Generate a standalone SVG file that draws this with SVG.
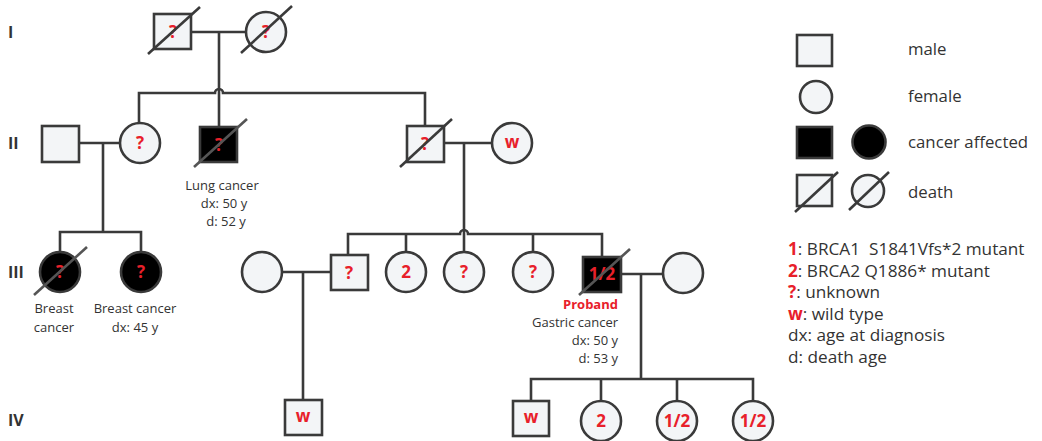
<svg xmlns="http://www.w3.org/2000/svg" width="1042" height="441" viewBox="0 0 1042 441">
<style>
.m{fill:#f3f5f7;stroke:#3a3a3a;stroke-width:2.6}
.a{fill:#000;stroke:#3a3a3a;stroke-width:2.6}
.ln{fill:none;stroke:#3a3a3a;stroke-width:2.6}
.sl{stroke:#3a3a3a;stroke-width:2.6;fill:none}
.sla{stroke:#555;stroke-width:2.6;fill:none}
.q{font-family:"Open Sans",sans-serif;font-weight:bold;font-size:17px;fill:#e8202a;text-anchor:middle}
.t{font-family:"Open Sans",sans-serif;font-size:13px;fill:#333}
.g{font-family:"Open Sans",sans-serif;font-weight:bold;font-size:16px;fill:#333}
.lg{font-family:"Open Sans",sans-serif;font-size:16.8px;fill:#333}
.lb{font-family:"Open Sans",sans-serif;font-size:17.2px;fill:#333}
.r{fill:#e8202a;font-weight:bold}
</style>
<rect width="1042" height="441" fill="#fff"/>
<g id="gen-labels">
<text class="g" x="8" y="38">I</text>
<text class="g" x="8" y="149">II</text>
<text class="g" x="8" y="278">III</text>
<text class="g" x="8" y="426">IV</text>
</g>
<g id="connectors">
<path class="ln" d="M192,32 H246"/>
<path class="ln" d="M219,32 V127"/>
<path class="ln" d="M139,123 V93 H215 A4,4 0 0 1 223,93 H425 V126"/>
<path class="ln" d="M80,143 H120"/>
<path class="ln" d="M103,143 V232"/>
<path class="ln" d="M60,252 V232 H141 V252"/>
<path class="ln" d="M444,143 H492"/>
<path class="ln" d="M464,143 V252"/>
<path class="ln" d="M348,255 V234 H460 A4,4 0 0 1 468,234 H602 V257"/>
<path class="ln" d="M406,252 V234 M533,252 V234"/>
<path class="ln" d="M282,272 H331"/>
<path class="ln" d="M303,272 V400"/>
<path class="ln" d="M621,274 H663"/>
<path class="ln" d="M641,274 V379"/>
<path class="ln" d="M531,401 V379 H753 V401"/>
<path class="ln" d="M601,401 V379 M677,401 V379"/>
</g>
<g id="I-1">
<rect class="m" x="154" y="14" width="37" height="35"/>
<text class="q" x="173" y="38">?</text>
<line class="sl" x1="148" y1="54" x2="200" y2="7"/>
</g>
<g id="I-2">
<circle class="m" cx="266" cy="32" r="20"/>
<text class="q" x="266" y="38">?</text>
<line class="sl" x1="241" y1="53" x2="292" y2="6"/>
</g>
<g id="II-1">
<rect class="m" x="42" y="126" width="37" height="36"/>
</g>
<g id="II-2">
<circle class="m" cx="140" cy="143" r="20"/>
<text class="q" x="140" y="149">?</text>
</g>
<g id="II-3">
<rect class="a" x="200" y="127" width="37" height="35"/>
<text class="q" x="219" y="151">?</text>
<line class="sla" x1="194" y1="167" x2="247" y2="119"/>
<text class="t" x="222" y="190" text-anchor="middle">Lung cancer</text>
<text class="t" x="224" y="208" text-anchor="middle">dx: 50 y</text>
<text class="t" x="226" y="226" text-anchor="middle">d: 52 y</text>
</g>
<g id="II-4">
<rect class="m" x="407" y="126" width="37" height="36"/>
<text class="q" x="425" y="150">?</text>
<line class="sl" x1="400" y1="167" x2="452" y2="119"/>
</g>
<g id="II-5">
<circle class="m" cx="512" cy="143" r="20"/>
<text class="q" x="512" y="148" font-size="15">w</text>
</g>
<g id="III-1">
<circle class="a" cx="60" cy="272" r="20"/>
<text class="q" x="60" y="278">?</text>
<line class="sla" x1="34" y1="295" x2="87" y2="247"/>
<text class="t" x="54" y="313" text-anchor="middle">Breast</text>
<text class="t" x="54" y="332" text-anchor="middle">cancer</text>
</g>
<g id="III-2">
<circle class="a" cx="141" cy="272" r="20"/>
<text class="q" x="141" y="278">?</text>
<text class="t" x="135" y="313" text-anchor="middle">Breast cancer</text>
<text class="t" x="135" y="332" text-anchor="middle">dx: 45 y</text>
</g>
<g id="III-3">
<circle class="m" cx="262" cy="272" r="20"/>
</g>
<g id="III-4">
<rect class="m" x="331" y="255" width="37" height="35"/>
<text class="q" x="349" y="279">?</text>
</g>
<g id="III-5">
<circle class="m" cx="406" cy="272" r="20"/>
<text class="q" x="406" y="278">2</text>
</g>
<g id="III-6">
<circle class="m" cx="464" cy="272" r="20"/>
<text class="q" x="464" y="278">?</text>
</g>
<g id="III-7">
<circle class="m" cx="533" cy="272" r="20"/>
<text class="q" x="533" y="278">?</text>
</g>
<g id="III-8">
<rect class="a" x="583" y="257" width="38" height="35"/>
<text class="q" x="602" y="280">1/2</text>
<line class="sla" x1="579" y1="295" x2="630" y2="249"/>
<text class="t r" x="618" y="309" text-anchor="end" font-size="13.5">Proband</text>
<text class="t" x="618" y="327" text-anchor="end">Gastric cancer</text>
<text class="t" x="618" y="345" text-anchor="end">dx: 50 y</text>
<text class="t" x="618" y="363" text-anchor="end">d: 53 y</text>
</g>
<g id="III-9">
<circle class="m" cx="683" cy="273" r="20"/>
</g>
<g id="IV-1">
<rect class="m" x="285" y="400" width="37" height="35"/>
<text class="q" x="303" y="422" font-size="15">w</text>
</g>
<g id="IV-2">
<rect class="m" x="513" y="401" width="36" height="35"/>
<text class="q" x="531" y="423" font-size="15">w</text>
</g>
<g id="IV-3">
<circle class="m" cx="601" cy="421" r="20"/>
<text class="q" x="601" y="427">2</text>
</g>
<g id="IV-4">
<circle class="m" cx="677" cy="421" r="20"/>
<text class="q" x="677" y="427">1/2</text>
</g>
<g id="IV-5">
<circle class="m" cx="753" cy="421" r="20"/>
<text class="q" x="753" y="427">1/2</text>
</g>
<g id="legend">
<rect class="m" x="797" y="35" width="35" height="31"/>
<text class="lg" x="908" y="55">male</text>
<circle class="m" cx="816" cy="97" r="16"/>
<text class="lg" x="908" y="102">female</text>
<rect class="a" x="797" y="127" width="35" height="31"/>
<circle class="a" cx="869" cy="142" r="16.5"/>
<text class="lg" x="908" y="148">cancer affected</text>
<rect class="m" x="797" y="175" width="35" height="31"/>
<line class="sl" x1="795" y1="212" x2="838" y2="172"/>
<circle class="m" cx="868" cy="191" r="16"/>
<line class="sl" x1="849" y1="210" x2="889" y2="172"/>
<text class="lg" x="908" y="198">death</text>
<text class="lb" x="788" y="255" xml:space="preserve"><tspan class="r">1</tspan>: BRCA1  S1841Vfs*2 mutant</text>
<text class="lb" x="788" y="277"><tspan class="r">2</tspan>: BRCA2 Q1886* mutant</text>
<text class="lb" x="788" y="298"><tspan class="r">?</tspan>: unknown</text>
<text class="lb" x="788" y="320"><tspan class="r">w</tspan>: wild type</text>
<text class="lb" x="788" y="341">dx: age at diagnosis</text>
<text class="lb" x="788" y="363">d: death age</text>
</g>
</svg>
